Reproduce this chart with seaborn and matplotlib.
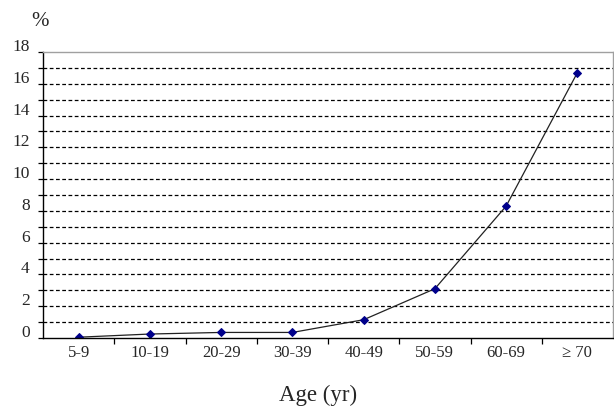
import matplotlib
matplotlib.use("Agg")
import matplotlib.pyplot as plt
import matplotlib.transforms as mtransforms
import numpy as np
import pandas as pd
import seaborn as sns

# data
age_groups = ["5-9", "10-19", "20-29", "30-39", "40-49", "50-59", "60-69", "\u2265 70"]
prevalence = [0.05, 0.25, 0.35, 0.35, 1.15, 3.1, 8.3, 16.7]
y_ticks = [0, 2, 4, 6, 8, 10, 12, 14, 16, 18]
x_label = "Age (yr)"
y_unit = "%"

sns.set_theme(style="white")
plt.rcParams["font.family"] = ["Liberation Serif", "DejaVu Serif"]

df = pd.DataFrame({"age": age_groups, "value": prevalence})

fig = plt.figure(figsize=(6.14, 4.07), dpi=100)
ax = fig.add_axes([43 / 614, 1 - 338 / 407, 570 / 614, 286 / 407])

sns.lineplot(data=df, x="age", y="value", sort=False, ax=ax,
             color="#222222", linewidth=0.9, marker="D", markersize=4.5,
             markerfacecolor="#00008B", markeredgecolor="#00008B")

ax.set_xlim(-0.5, len(age_groups) - 0.5)
ax.set_ylim(0, 18)

# y grid every 1 unit, labels every 2
ax.set_yticks(y_ticks)
ax.set_yticks(np.arange(0, 18, 1), minor=True)
ax.set_yticklabels([str(t) for t in y_ticks], fontsize=12.5)
for t in np.arange(1, 18, 1):
    ax.axhline(t, color="black", linestyle=(0, (3, 2)), linewidth=0.9, zorder=0)

ax.tick_params(axis="y", which="both", direction="out", length=3.5, width=0.9,
               color="black", pad=6, left=True)
offset = mtransforms.ScaledTranslation(0, 7 / 100, fig.dpi_scale_trans)
for lab in ax.get_yticklabels():
    lab.set_transform(lab.get_transform() + offset)

# x ticks: labels at categories, tick marks at boundaries
ax.set_xticks(range(len(age_groups)))
ax.set_xticklabels(age_groups, fontsize=12)
ax.set_xticks(np.arange(0.5, len(age_groups) - 0.5, 1), minor=True)
ax.tick_params(axis="x", which="major", length=0, pad=5)
ax.tick_params(axis="x", which="minor", direction="out", length=4, width=0.9,
               color="black", bottom=True)

ax.set_xlabel("")
ax.set_ylabel("")
ax.grid(False)
fig.text(318 / 614, 1 - 401 / 407, x_label, fontsize=16.5, ha="center", va="baseline")

for side in ["left", "bottom"]:
    ax.spines[side].set_color("black")
    ax.spines[side].set_linewidth(1.0)
for side in ["top", "right"]:
    ax.spines[side].set_color("#A0A0A0")
    ax.spines[side].set_linewidth(1.0)

fig.text(40 / 614, 1 - 22 / 407, y_unit, fontsize=15, ha="center", va="center")

fig.savefig("out.png", dpi=100)
